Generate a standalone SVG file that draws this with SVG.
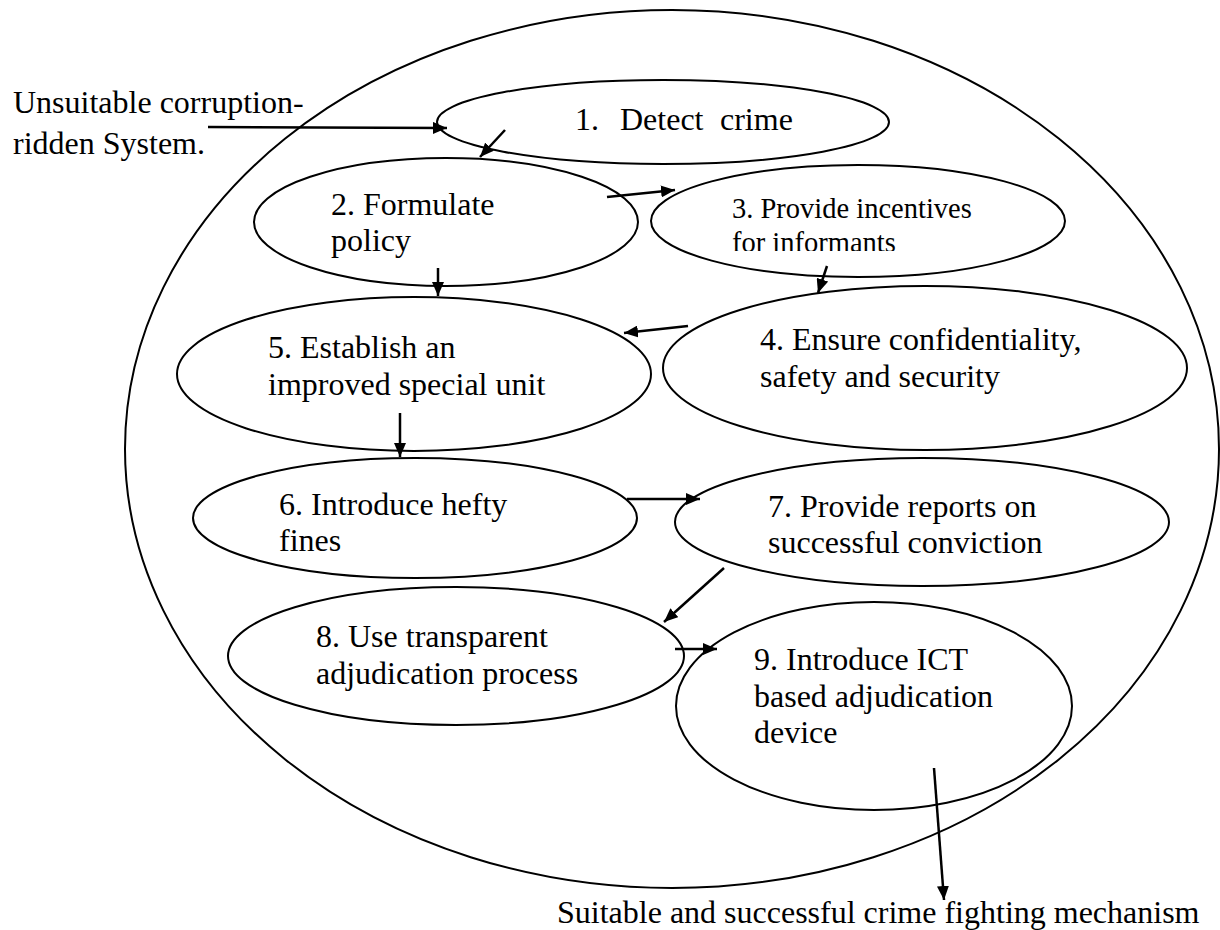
<svg xmlns="http://www.w3.org/2000/svg" width="1220" height="930" viewBox="0 0 1220 930">
  <style>
    .shape { fill: none; stroke: #000; stroke-width: 2; }
    .label { font-family: "Liberation Serif", "Times New Roman", serif; font-size: 32px; fill: #000; }
    .small { font-size: 28.5px; }
    .link { fill: none; stroke: #000; stroke-width: 2.5; marker-end: url(#head); }
  </style>
  <defs>
    <marker id="head" viewBox="0 0 14 12" refX="14" refY="6" markerWidth="14" markerHeight="12" markerUnits="userSpaceOnUse" orient="auto">
      <path d="M0,0 L14,6 L0,12 z" fill="#000"/>
    </marker>
    <!-- the second line of step 3 is cut off by its text frame -->
    <clipPath id="frame3">
      <rect x="700" y="180" width="320" height="71"/>
    </clipPath>
  </defs>
  <rect width="1220" height="930" fill="#fff"/>

  <!-- enclosing boundary of the mechanism -->
  <g id="boundary">
    <ellipse class="shape" cx="672" cy="449" rx="547" ry="439"/>
  </g>

  <g id="input">
    <text class="label" x="13" y="113">Unsuitable corruption-</text>
    <text class="label" x="13" y="154">ridden System.</text>
  </g>

  <g id="step1">
    <ellipse class="shape" cx="663" cy="122" rx="226" ry="42"/>
    <text class="label" y="130"><tspan x="575">1.</tspan><tspan x="620">Detect</tspan><tspan x="720">crime</tspan></text>
  </g>

  <g id="step2">
    <ellipse class="shape" cx="446" cy="222" rx="192" ry="64"/>
    <text class="label" x="331" y="215">2. Formulate</text>
    <text class="label" x="331" y="251">policy</text>
  </g>

  <g id="step3">
    <ellipse class="shape" cx="858" cy="221" rx="207" ry="56"/>
    <g clip-path="url(#frame3)">
      <text class="label small" x="732" y="218">3. Provide incentives</text>
      <text class="label small" x="732" y="252">for informants</text>
    </g>
  </g>

  <g id="step4">
    <ellipse class="shape" cx="925" cy="368" rx="262" ry="82"/>
    <text class="label" x="760" y="350">4. Ensure confidentiality,</text>
    <text class="label" x="760" y="387">safety and security</text>
  </g>

  <g id="step5">
    <ellipse class="shape" cx="414" cy="374" rx="237" ry="77"/>
    <text class="label" x="268" y="358">5. Establish an</text>
    <text class="label" x="268" y="395">improved special unit</text>
  </g>

  <g id="step6">
    <ellipse class="shape" cx="415" cy="518" rx="222" ry="60"/>
    <text class="label" x="279" y="515">6. Introduce hefty</text>
    <text class="label" x="279" y="551">fines</text>
  </g>

  <g id="step7">
    <ellipse class="shape" cx="922" cy="522" rx="247" ry="64"/>
    <text class="label" x="768" y="517">7. Provide reports on</text>
    <text class="label" x="768" y="553">successful conviction</text>
  </g>

  <g id="step8">
    <ellipse class="shape" cx="456" cy="656" rx="228" ry="69"/>
    <text class="label" x="316" y="647">8. Use transparent</text>
    <text class="label" x="316" y="684">adjudication process</text>
  </g>

  <g id="step9">
    <ellipse class="shape" cx="874" cy="706" rx="198" ry="104"/>
    <text class="label" x="754" y="670">9. Introduce ICT</text>
    <text class="label" x="754" y="707">based adjudication</text>
    <text class="label" x="754" y="743">device</text>
  </g>

  <g id="output">
    <text class="label" x="557" y="923">Suitable and successful crime fighting mechanism</text>
  </g>

  <g id="connectors">
    <line class="link" x1="208" y1="127" x2="447" y2="128"/>
    <line class="link" x1="505" y1="130" x2="480" y2="157"/>
    <line class="link" x1="607" y1="197" x2="675" y2="190"/>
    <line class="link" x1="438" y1="268" x2="438" y2="296"/>
    <line class="link" x1="827" y1="266" x2="818" y2="293"/>
    <line class="link" x1="688" y1="326" x2="624" y2="333"/>
    <line class="link" x1="400" y1="413" x2="400" y2="457"/>
    <line class="link" x1="627" y1="499" x2="700" y2="499"/>
    <line class="link" x1="724" y1="568" x2="664" y2="622"/>
    <line class="link" x1="675" y1="649" x2="717" y2="649"/>
    <line class="link" x1="934" y1="768" x2="944" y2="900"/>
  </g>
</svg>
